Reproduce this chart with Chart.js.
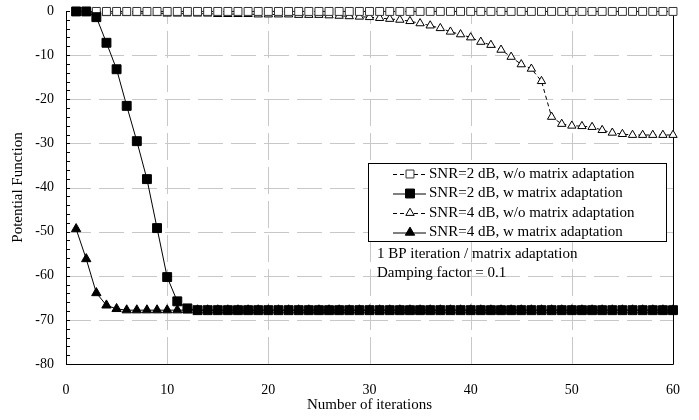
<!DOCTYPE html>
<html>
<head>
<meta charset="utf-8">
<script src="https://cdn.jsdelivr.net/npm/chart.js@4.4.1/dist/chart.umd.min.js"></script>
<style>
html,body{margin:0;padding:0;background:#fff;}
#wrap{width:699px;height:420px;position:relative;}
</style>
</head>
<body>
<div id="wrap"><canvas id="c" width="699" height="420"></canvas></div>
<script>
const iterations = [1,2,3,4,5,6,7,8,9,10,11,12,13,14,15,16,17,18,19,20,21,22,23,24,25,26,27,28,29,30,31,32,33,34,35,36,37,38,39,40,41,42,43,44,45,46,47,48,49,50,51,52,53,54,55,56,57,58,59,60];
const snr2NoAdapt = [-0.1,-0.1,-0.1,-0.1,-0.1,-0.1,-0.1,-0.1,-0.1,-0.1,-0.1,-0.1,-0.1,-0.1,-0.1,-0.1,-0.1,-0.1,-0.1,-0.1,-0.1,-0.1,-0.1,-0.1,-0.1,-0.1,-0.1,-0.1,-0.1,-0.1,-0.1,-0.1,-0.1,-0.1,-0.1,-0.1,-0.1,-0.1,-0.1,-0.1,-0.1,-0.1,-0.1,-0.1,-0.1,-0.1,-0.1,-0.1,-0.1,-0.1,-0.1,-0.1,-0.1,-0.1,-0.1,-0.1,-0.1,-0.1,-0.1,-0.1];
const snr2Adapt = [-0.1,-0.1,-1.4,-7.2,-13.2,-21.5,-29.5,-38.1,-49.2,-60.3,-65.8,-67.4,-67.8,-67.8,-67.8,-67.8,-67.8,-67.8,-67.8,-67.8,-67.8,-67.8,-67.8,-67.8,-67.8,-67.8,-67.8,-67.8,-67.8,-67.8,-67.8,-67.8,-67.8,-67.8,-67.8,-67.8,-67.8,-67.8,-67.8,-67.8,-67.8,-67.8,-67.8,-67.8,-67.8,-67.8,-67.8,-67.8,-67.8,-67.8,-67.8,-67.8,-67.8,-67.8,-67.8,-67.8,-67.8,-67.8,-67.8,-67.8];
const snr4NoAdapt = [-0.4,-0.4,-0.4,-0.5,-0.5,-0.5,-0.5,-0.5,-0.5,-0.6,-0.6,-0.6,-0.6,-0.6,-0.7,-0.7,-0.7,-0.7,-0.8,-0.8,-0.8,-0.8,-0.9,-0.9,-0.9,-1.0,-1.1,-1.2,-1.3,-1.4,-1.6,-1.8,-2.0,-2.3,-2.8,-3.3,-3.9,-4.7,-5.3,-6.0,-7.0,-7.7,-8.8,-10.4,-12.1,-13.1,-15.9,-24.0,-25.6,-26.0,-26.1,-26.3,-27.0,-27.6,-27.9,-28.1,-28.1,-28.1,-28.1,-28.1];
const snr4Adapt = [-49.4,-56.2,-63.9,-66.7,-67.5,-67.8,-67.8,-67.8,-67.8,-67.8,-67.8,-67.8,-67.8,-67.8,-67.8,-67.8,-67.8,-67.8,-67.8,-67.8,-67.8,-67.8,-67.8,-67.8,-67.8,-67.8,-67.8,-67.8,-67.8,-67.8,-67.8,-67.8,-67.8,-67.8,-67.8,-67.8,-67.8,-67.8,-67.8,-67.8,-67.8,-67.8,-67.8,-67.8,-67.8,-67.8,-67.8,-67.8,-67.8,-67.8,-67.8,-67.8,-67.8,-67.8,-67.8,-67.8,-67.8,-67.8,-67.8,-67.8];
const seriesLabels = ['SNR=2 dB, w/o matrix adaptation','SNR=2 dB, w matrix adaptation','SNR=4 dB, w/o matrix adaptation','SNR=4 dB, w matrix adaptation'];
const noteLines = ['1 BP iteration / matrix adaptation','Damping factor = 0.1'];
const xTicks = [0,10,20,30,40,50,60];
const yTicks = [0,-10,-20,-30,-40,-50,-60,-70,-80];
const xTitle = 'Number of iterations';
const yTitle = 'Potential Function';

const FONT = "'Liberation Serif','Times New Roman',serif";
function pts(vals){ return iterations.map((x,i)=>({x:x,y:vals[i]})); }

const styles = [
  {style:'rect', fill:'#fff', stroke:'#333', r:5.6, dash:[4,3]},
  {style:'rect', fill:'#000', stroke:'#000', r:6.3, dash:[]},
  {style:'triangle', fill:'#fff', stroke:'#000', r:4.8, dash:[4,3]},
  {style:'triangle', fill:'#000', stroke:'#000', r:5.4, dash:[]}
];
const allVals = [snr2NoAdapt, snr2Adapt, snr4NoAdapt, snr4Adapt];
const orders = [1,0,2,3];

const datasets = allVals.map((v,i)=>({
  label: seriesLabels[i],
  data: pts(v),
  borderColor:'#000',
  borderWidth:1,
  borderDash: styles[i].dash,
  pointStyle: styles[i].style,
  pointRadius: styles[i].r,
  pointBackgroundColor: styles[i].fill,
  pointBorderColor: styles[i].stroke,
  pointBorderWidth: 1,
  tension: 0,
  fill:false,
  clip:false,
  order: orders[i]
}));

function drawMarker(ctx, st, x, y){
  ctx.save();
  ctx.setLineDash([]);
  ctx.fillStyle = st.fill; ctx.strokeStyle = st.stroke; ctx.lineWidth = 1;
  ctx.beginPath();
  if (st.style === 'rect'){
    const s = Math.SQRT1_2 * st.r;
    ctx.rect(x - s, y - s, 2*s, 2*s);
  } else {
    const r = st.r;
    ctx.moveTo(x, y - r);
    ctx.lineTo(x + r*Math.sin(Math.PI/3), y + r/2);
    ctx.lineTo(x - r*Math.sin(Math.PI/3), y + r/2);
    ctx.closePath();
  }
  ctx.fill(); ctx.stroke();
  ctx.restore();
}

const framePlugin = {
  id:'frame',
  beforeDatasetsDraw(chart){
    const {ctx, chartArea:a} = chart;
    const xs = chart.scales.x, ys = chart.scales.y;
    ctx.save();
    ctx.strokeStyle = '#c8c8c8'; ctx.lineWidth = 1;
    ctx.setLineDash([25,8]);
    ctx.beginPath();
    yTicks.forEach(v=>{
      if (v === 0 || v === -80) return;
      const py = Math.round(ys.getPixelForValue(v)) + 0.5;
      ctx.moveTo(a.left, py); ctx.lineTo(a.right, py);
    });
    ctx.stroke();
    ctx.setLineDash([27,7]);
    ctx.beginPath();
    xTicks.forEach(v=>{
      if (v === 0 || v === 60) return;
      const px = Math.round(xs.getPixelForValue(v)) + 0.5;
      ctx.moveTo(px, a.bottom); ctx.lineTo(px, a.top);
    });
    ctx.stroke();
    ctx.setLineDash([]);
    ctx.strokeStyle = '#000'; ctx.lineWidth = 1;
    ctx.beginPath();
    ctx.moveTo(Math.round(a.left)+0.5, a.top); ctx.lineTo(Math.round(a.left)+0.5, Math.round(a.bottom)+0.5);
    ctx.lineTo(Math.round(a.right)+0.5, Math.round(a.bottom)+0.5); ctx.lineTo(Math.round(a.right)+0.5, a.top);
    ctx.stroke();
    ctx.beginPath();
    for (let v = 0; v >= -80; v -= 2){
      const py = Math.round(ys.getPixelForValue(v)) + 0.5;
      ctx.moveTo(a.left, py); ctx.lineTo(a.left + 4, py);
    }
    ctx.stroke();
    ctx.restore();
  },
  afterDraw(chart){
    const {ctx} = chart;
    const bx = 368.5, by = 163.5, bw = 298, bh = 78;
    ctx.save();
    ctx.fillStyle = '#fff'; ctx.fillRect(bx, by, bw, bh);
    ctx.strokeStyle = '#000'; ctx.lineWidth = 1; ctx.setLineDash([]);
    ctx.strokeRect(bx, by, bw, bh);
    ctx.font = '15px ' + FONT;
    ctx.textBaseline = 'middle';
    ctx.fillStyle = '#000';
    const rowY = [174, 193.5, 213, 232.5];
    for (let i = 0; i < 4; i++){
      const y = rowY[i];
      ctx.save();
      ctx.strokeStyle = '#000'; ctx.lineWidth = 1;
      ctx.setLineDash(styles[i].dash);
      ctx.beginPath(); ctx.moveTo(393, y+0.5); ctx.lineTo(426, y+0.5); ctx.stroke();
      ctx.restore();
      drawMarker(ctx, styles[i], 410, y);
      ctx.fillStyle = '#000';
      ctx.fillText(seriesLabels[i], 429, y);
    }
    ctx.fillText(noteLines[0], 377, 254);
    ctx.fillText(noteLines[1], 377, 273);
    ctx.restore();
  }
};

new Chart(document.getElementById('c'), {
  type:'line',
  data:{datasets},
  plugins:[framePlugin],
  options:{
    responsive:false,
    animation:false,
    events:[],
    layout:{autoPadding:false, padding:{left:0, right:26, top:11, bottom:0}},
    plugins:{legend:{display:false}, tooltip:{enabled:false}},
    scales:{
      x:{
        type:'linear', min:0, max:60,
        afterBuildTicks(s){ s.ticks = xTicks.map(v=>({value:v})); },
        afterFit(s){ s.height = 56; s.paddingLeft = 0; s.paddingRight = 0; },
        grid:{display:false, drawTicks:false},
        border:{display:false},
        ticks:{color:'#000', font:{family:FONT, size:14}, padding:18, maxRotation:0, autoSkip:false},
        title:{display:true, text:xTitle, color:'#000', font:{family:FONT, size:15}, padding:{top:0, bottom:6}}
      },
      y:{
        type:'linear', min:-80, max:0,
        afterBuildTicks(s){ s.ticks = yTicks.map(v=>({value:v})); },
        afterFit(s){ s.width = 66; s.paddingTop = 0; s.paddingBottom = 0; },
        grid:{display:false, drawTicks:false},
        border:{display:false},
        ticks:{color:'#000', font:{family:FONT, size:14}, padding:12, autoSkip:false},
        title:{display:true, text:yTitle, color:'#000', font:{family:FONT, size:15}, padding:{top:9, bottom:0}}
      }
    }
  }
});
</script>
</body>
</html>
